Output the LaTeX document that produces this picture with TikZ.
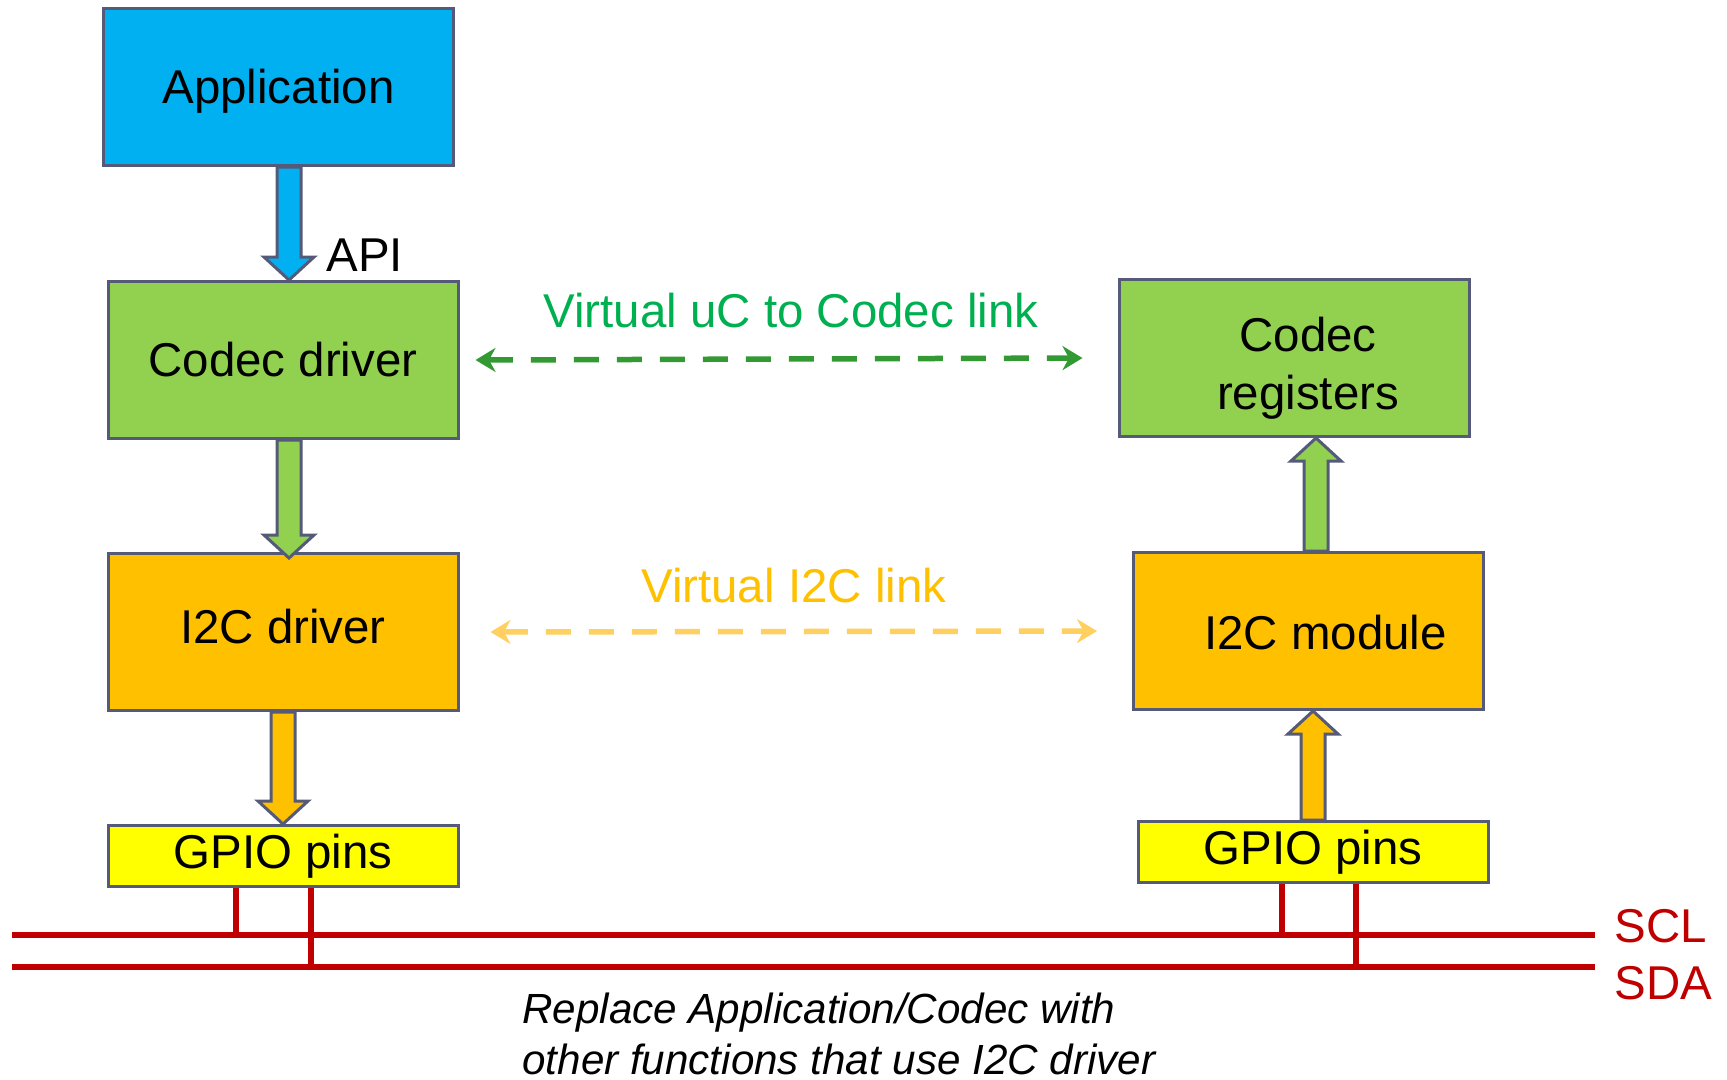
\documentclass[tikz,border=0pt]{standalone}
\usepackage{fontspec}
\setmainfont{Liberation Sans}
\usetikzlibrary{arrows.meta,positioning,calc}

\definecolor{appblue}{HTML}{00B0F0}
\definecolor{codecgreen}{HTML}{92D050}
\definecolor{i2corange}{HTML}{FFC000}
\definecolor{pinyellow}{HTML}{FFFF00}
\definecolor{edge}{HTML}{545A78}
\definecolor{linkgreen}{HTML}{00B050}
\definecolor{dashgreen}{HTML}{339933}
\definecolor{dashorange}{HTML}{FFD060}
\definecolor{busred}{HTML}{C00000}

\begin{document}
\begin{tikzpicture}[
    node distance=1.12cm,
    every node/.style={font=\fontsize{13.5}{16.5}\selectfont},
    box/.style={draw=edge, line width=0.03cm, align=center, minimum width=3.5cm, minimum height=1.57cm, inner sep=0pt},
    pinbox/.style={box, fill=pinyellow, minimum height=0.61cm},
    blockarrow/.style={draw=edge, line width=0.03cm, to path={
        let \p1=(\tikztostart), \p2=(\tikztotarget), \p3=($(\p2)!0.23cm!(\p1)$) in
        ($(\p1)!0.12cm!90:(\p2)$) -- ($(\p3)!0.12cm!90:(\p2)$) -- ($(\p3)!0.25cm!90:(\p2)$)
        -- (\p2) -- ($(\p3)!0.25cm!-90:(\p2)$) -- ($(\p3)!0.12cm!-90:(\p2)$)
        -- ($(\p1)!0.12cm!-90:(\p2)$) -- cycle}},
    vlink/.style={{Stealth[length=2mm,width=2.4mm]}-{Stealth[length=2mm,width=2.4mm]}, line width=0.055cm, dash pattern=on 0.25cm off 0.18cm},
    bus/.style={draw=busred, line width=0.055cm}
]
\useasboundingbox (0,0) rectangle (17.27,-10.79);

% left column: software stack
\node[box, fill=appblue] (app) at (2.785,-0.87) {\raisebox{-0.045cm}[\height][\depth]{Application}};
\node[box, fill=codecgreen, below=1.13cm of app, xshift=0.045cm] (codec) {Codec driver};
\node[box, fill=i2corange, below=of codec] (i2cdrv) {\raisebox{0.05cm}[\height][\depth]{I2C driver}};
\node[pinbox, below=of i2cdrv] (gpioL) {GPIO pins};

% right column: codec side
\node[box, fill=codecgreen] (regs) at (12.94,-3.58) {};
\node[align=center] at ([xshift=0.14cm, yshift=-0.1cm]regs.center) (regs-text) {Codec\\registers};
\node[box, fill=i2corange, below=1.13cm of regs, xshift=0.145cm] (module) {};
\node at ([xshift=0.17cm, yshift=-0.02cm]module.center) (module-text) {I2C module};
\node[pinbox, below=1.09cm of module, xshift=0.045cm] (gpioR) {GPIO pins};

% block arrows
\draw[blockarrow, fill=appblue] ([xshift=0.105cm]app.south) to ([xshift=0.06cm]codec.north);
\draw[blockarrow, fill=codecgreen] ([xshift=0.06cm]codec.south) to ([xshift=0.06cm, yshift=-0.06cm]i2cdrv.north);
\draw[blockarrow, fill=i2corange] (i2cdrv.south) to (gpioL.north);
\draw[blockarrow, fill=codecgreen] ([xshift=0.075cm]module.north) to ([xshift=0.22cm]regs.south);
\draw[blockarrow, fill=i2corange] (gpioR.north) to ([xshift=0.045cm]module.south);
\node[anchor=west] (api) at ([xshift=0.31cm, yshift=0.25cm]codec.north) {API};

% virtual links
\draw[vlink, draw=dashgreen] ([xshift=0.16cm]codec.east) -- node[above=0.28cm, xshift=0.12cm, inner sep=0pt, text=linkgreen] (link1) {Virtual uC to Codec link} ([xshift=-0.35cm]regs.west);
\draw[vlink, draw=dashorange] ([xshift=0.31cm]i2cdrv.east) -- node[above=0.26cm, inner sep=0pt, text=i2corange] (link2) {Virtual I2C link} ([xshift=-0.35cm]module.west);

% I2C bus
\coordinate (scl-w) at (0.12,-9.35);
\coordinate (scl-e) at (15.95,-9.35);
\coordinate (sda-w) at (0.12,-9.67);
\coordinate (sda-e) at (15.95,-9.67);
\draw[bus] (scl-w) -- (scl-e);
\draw[bus] (sda-w) -- (sda-e);
\draw[bus] ([xshift=-0.47cm]gpioL.south) coordinate (l1) -- (l1 |- scl-w);
\draw[bus] ([xshift=0.28cm]gpioL.south) coordinate (l2) -- (l2 |- sda-w);
\draw[bus] ([xshift=-0.31cm]gpioR.south) coordinate (r1) -- (r1 |- scl-w);
\draw[bus] ([xshift=0.43cm]gpioR.south) coordinate (r2) -- (r2 |- sda-w);
\node[anchor=base west, text=busred] (scl) at (16.02,-9.42) {SCL};
\node[anchor=base west, text=busred] (sda) at (16.02,-9.99) {SDA};

\node[anchor=base west, align=left, font=\fontsize{12}{14.5}\selectfont\itshape] (note) at (5.10,-10.74)
    {Replace Application/Codec with\\other functions that use I2C driver};
\end{tikzpicture}
\end{document}
